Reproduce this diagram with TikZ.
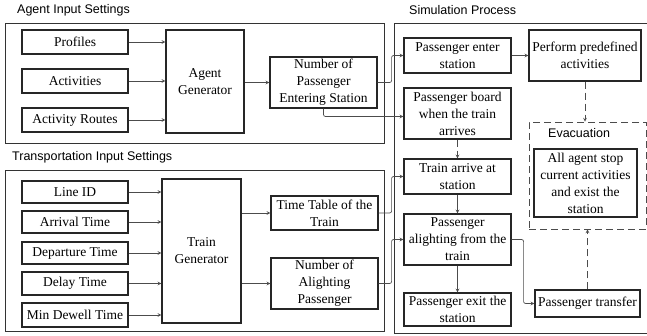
\documentclass[tikz,border=0pt]{standalone}
\usepackage{fontspec}
\setmainfont{Liberation Serif}
\newfontfamily\labelfont{Liberation Sans}
\usetikzlibrary{arrows}
\usetikzlibrary{positioning}

\begin{document}
\begin{tikzpicture}
	[x=1pt,y=-1pt,every node/.style={font=\fontsize{13.5}{17}\selectfont},
	box/.style={draw=black!85,line width=1.2pt,align=center,inner sep=0pt},
	inbox/.style={box,minimum width=106,minimum height=23},
	simbox/.style={box,minimum width=107},
	frame/.style={draw=black!80,line width=1pt},
	link/.style={->,>=stealth,draw=black!70,line width=0.7pt,rounded corners=2pt},
	dlink/.style={link,dash pattern=on 7pt off 4pt},
	title/.style={font=\labelfont\fontsize{12.5}{15}\selectfont,anchor=west,inner sep=0pt}]
	\useasboundingbox (0,0) rectangle (647,335);
	\clip (0,0) rectangle (647,335);
	
	% frames
	\draw[frame] (5,23) rectangle (384,143);
	\draw[frame] (5,170) rectangle (384,331);
	\draw[frame] (394,23) rectangle (660,333);
	\node[title] (t1) at (17,10) {Agent Input Settings};
	\node[title] (t2) at (12,157) {Transportation Input Settings};
	\node[title] (t3) at (409,10) {Simulation Process};
	
	% agent input settings
	\node[inbox,minimum height=24] (prof) at (75,42) {Profiles};
	\node[inbox,minimum height=24] (act) at (75,81) {Activities};
	\node[inbox,minimum height=24] (route) at (75,120) {Activity Routes};
	\node[box,minimum width=78,minimum height=103] (agen) at (205,81.5) {Agent\\Generator};
	\node[box,minimum width=107,minimum height=51] (nenter) at (323.5,82.5) {Number of\\Passenger\\Entering Station};
	
	% transportation input settings
	\node[inbox,minimum height=22] (lineid) at (75,192) {Line ID};
	\node[inbox,minimum height=22] (arr) at (75,222) {Arrival Time};
	\node[inbox,minimum height=22] (dep) at (75,253) {Departure Time};
	\node[inbox] (delay) at (75,283.5) {Delay Time};
	\node[inbox,minimum height=24] (dwell) at (75,315) {Min Dewell Time};
	\node[box,minimum width=79,minimum height=144] (tgen) at (201.5,251) {Train\\Generator};
	\node[box,minimum width=107,minimum height=34] (ttable) at (324.5,213) {Time Table of the\\Train};
	\node[box,minimum width=107,minimum height=51] (nalight) at (324.5,283.5) {Number of\\Alighting\\Passenger};
	
	% simulation process
	\node[simbox,minimum height=35] (penter) at (457.5,55.5) {Passenger enter\\station};
	\node[box,minimum width=112,minimum height=51] (perform) at (585,55.5) {Perform predefined\\activities};
	\node[simbox,minimum height=51] (board) at (457.5,113.5) {Passenger board\\when the train\\arrives};
	\node[simbox,minimum height=35] (tarrive) at (457.5,176.5) {Train arrive at\\station};
	\node[simbox,minimum height=51] (alight) at (457.5,239.5) {Passenger\\alighting from the\\train};
	\node[simbox,minimum height=33] (pexit) at (457.5,309.5) {Passenger exit the\\station};
	\node[box,minimum width=105,minimum height=27] (transfer) at (587.5,303.5) {Passenger transfer};
	\node[draw=black!70,line width=0.7pt,dash pattern=on 7pt off 4pt,minimum width=117,minimum height=107] (evac) at (587.5,175.5) {};
	\node[title] (evactitle) at (548,133) {Evacuation};
	\node[box,minimum width=103,minimum height=68] (allstop) at (585.5,183) {All agent stop\\current activities\\and exist the\\station};
	
	\foreach \src in {prof,act,route}
	\draw[link] (\src.east) -- (\src.east -| agen.west);
	\foreach \src in {lineid,arr,dep,delay,dwell}
	\draw[link] (\src.east) -- (\src.east -| tgen.west);
	\draw[link] (agen.east |- nenter.west) -- (nenter.west);
	\draw[link] (tgen.east |- ttable.west) -- (ttable.west);
	\draw[link] (tgen.east |- nalight.west) -- (nalight.west);
	
	\draw[link] (nenter.east) -- ++(14,0) |- (penter.west);
	\draw[link] (nenter.south) |- ([yshift=-3]board.west);
	\draw[link] (ttable.east) -- ++(13,0) |- (tarrive.west);
	\draw[link] (nalight.east) -- ++(13,0) |- (alight.west);
	
	\foreach \from/\to in {penter/perform, tarrive/alight, alight/pexit}
	\draw[link] (\from) -- (\to);
	\draw[dlink] (board) -- (tarrive);
	\draw[link] (alight.east) -- ++(12,0) |- (transfer.west);
	\draw[dlink] (perform.south) -- (perform.south |- evac.north);
	\draw[dlink] (transfer.north) -- (transfer.north |- evac.south);
\end{tikzpicture}
\end{document}
